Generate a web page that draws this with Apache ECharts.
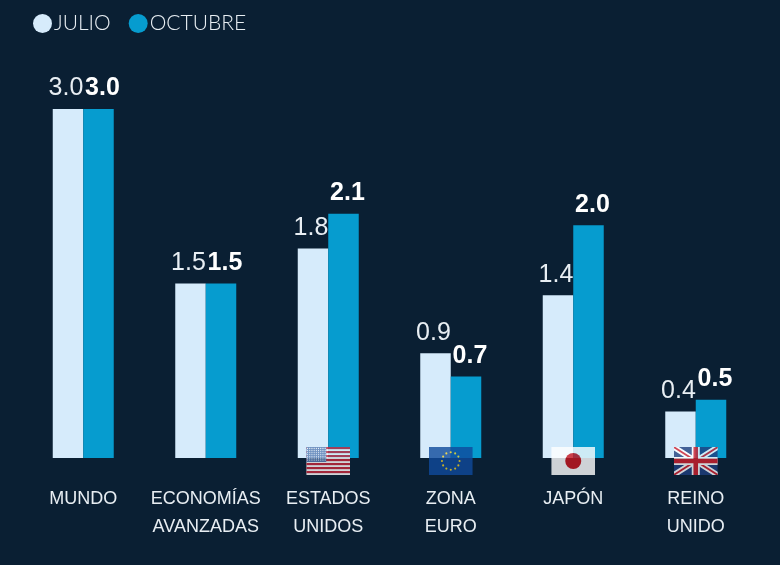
<!DOCTYPE html>
<html><head><meta charset="utf-8">
<style>html,body{margin:0;padding:0;background:#0a1f33}#c{width:780px;height:565px}</style>
<script src="https://cdn.jsdelivr.net/npm/echarts@6/dist/echarts.min.js"></script>
</head><body><div id="c"></div>
<script>
const categories = ['MUNDO','ECONOMÍAS\nAVANZADAS','ESTADOS\nUNIDOS','ZONA\nEURO','JAPÓN','REINO\nUNIDO'];
const julio = [3.0,1.5,1.8,0.9,1.4,0.4];
const octubre = [3.0,1.5,2.1,0.7,2.0,0.5];

const svg = s => 'image://data:image/svg+xml;charset=utf-8,' + encodeURIComponent(
  '<svg xmlns="http://www.w3.org/2000/svg" width="88" height="56" viewBox="0 0 44 28">'+s+'</svg>');
let stripes=''; for(let i=0;i<7;i++) stripes+=`<rect y="${i*4}" width="44" height="2.15" fill="#c8283c"/>`;
let dots=''; for(let r=0;r<7;r++) for(let c=0;c<9;c++) dots+=`<circle cx="${1.3+c*2.2}" cy="${1.4+r*1.95}" r=".55" fill="#fff"/>`;
const usFlag = svg(`<rect width="44" height="28" fill="#fff"/>${stripes}<rect width="20" height="15" fill="#5a7fb5"/>${dots}`);
let stars=''; for(let i=0;i<12;i++){const a=i*Math.PI/6; stars+=`<circle cx="${22+8.8*Math.cos(a)}" cy="${14+8.8*Math.sin(a)}" r="1.05" fill="#f5d327"/>`;}
const euFlag = svg(`<rect width="44" height="28" fill="#0f4a9c"/>${stars}`);
const jpFlag = svg(`<rect width="44" height="28" fill="#fff"/><circle cx="22" cy="14" r="8" fill="#c8161e"/>`);
const ukFlag = svg(`<rect width="44" height="28" fill="#1f3f7f"/><path d="M0 0L44 28M44 0L0 28" stroke="#fff" stroke-width="5.5"/><path d="M0 0L44 28M44 0L0 28" stroke="#d0202e" stroke-width="1.8"/><path d="M22 0V28M0 14H44" stroke="#fff" stroke-width="8"/><path d="M22 0V28M0 14H44" stroke="#d0202e" stroke-width="4.6"/>`);
const flags = [null,null,usFlag,euFlag,jpFlag,ukFlag];

const fontN = '"Liberation Sans Narrow","Liberation Sans",sans-serif';
const chart = echarts.init(document.getElementById('c'));
chart.setOption({
  animation:false,
  backgroundColor:'#0a1f33',
  legend:{left:28,top:8,itemWidth:19,itemHeight:19,itemGap:18,icon:'circle',
    data:['JULIO','OCTUBRE'],
    textStyle:{color:'#e8eef3',fontFamily:'Lato',fontWeight:300,fontSize:21,padding:[0,0,0,-3]}},
  grid:{left:22,right:23,top:109,bottom:107},
  xAxis:{type:'category',data:categories,axisLine:{show:false},axisTick:{show:false},
    axisLabel:{interval:0,color:'#e8eef3',fontFamily:fontN,fontSize:18,lineHeight:28,margin:27,verticalAlign:'top'}},
  yAxis:{type:'value',min:0,max:3,show:false,splitLine:{show:false}},
  series:[
    {name:'JULIO',type:'bar',data:julio,barWidth:30.5,barGap:'0%',itemStyle:{color:'#d6ebfb'},
     label:{show:true,position:'top',distance:8,offset:[-2,0],formatter:p=>p.value.toFixed(1),color:'#e8eef3',fontFamily:fontN,fontSize:25}},
    {name:'OCTUBRE',type:'bar',data:octubre,barWidth:30.5,itemStyle:{color:'#069ccf'},
     label:{show:true,position:'top',distance:8,offset:[4,0],formatter:p=>p.value.toFixed(1),color:'#fff',fontFamily:fontN,fontWeight:'bold',fontSize:25}},
    {type:'scatter',z:5,symbolKeepAspect:false,silent:true,
     data:categories.map((c,i)=>flags[i]?{value:[i,0],symbol:flags[i],symbolSize:[44,28],symbolOffset:[0,3]}:null).filter(Boolean)}
  ]
});
</script></body></html>
